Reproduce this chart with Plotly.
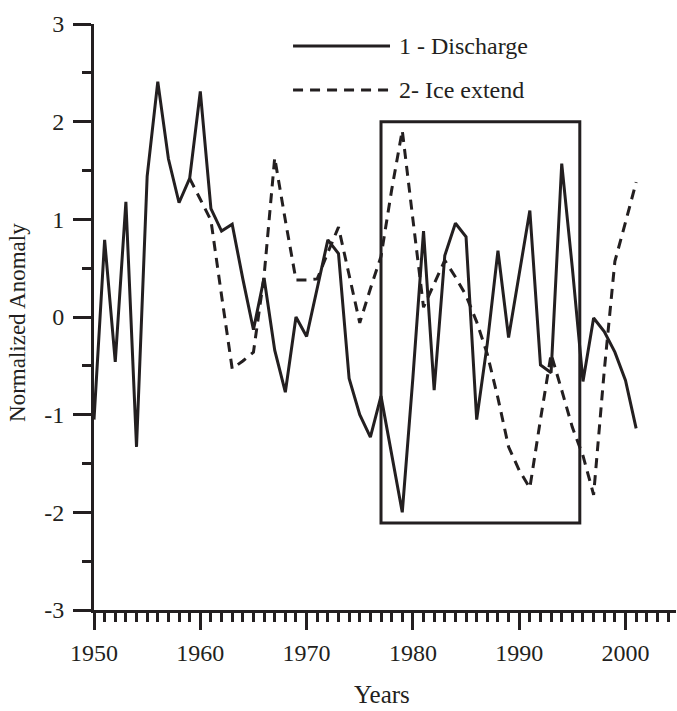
import plotly.graph_objects as go

# Discharge anomaly, 1950-2001
discharge_years = list(range(1950, 2002))
discharge = [
    -1.05, 0.79, -0.46, 1.18, -1.33, 1.44, 2.41, 1.62, 1.17, 1.42,
    2.31, 1.11, 0.88, 0.95, 0.39, -0.13, 0.40, -0.34, -0.77, 0.00,
    -0.20, 0.30, 0.79, 0.65, -0.63, -1.00, -1.23, -0.81, -1.40, -2.00,
    -0.62, 0.88, -0.75, 0.63, 0.96, 0.82, -1.05, -0.27, 0.68, -0.21,
    0.44, 1.09, -0.49, -0.57, 1.57, 0.50, -0.66, -0.01, -0.15, -0.36,
    -0.65, -1.14,
]

# Ice extent anomaly, 1959-2001
ice_years = list(range(1959, 2002))
ice = [
    1.42, 1.21, 0.99, 0.22, -0.53, -0.45, -0.36, 0.42, 1.63, 0.99,
    0.38, 0.38, 0.39, 0.66, 0.92, 0.43, -0.06, 0.29, 0.62, 1.30,
    1.91, 1.00, 0.10, 0.34, 0.58, 0.41, 0.22, -0.05, -0.38, -0.83,
    -1.33, -1.57, -1.75, -1.05, -0.38, -0.75, -1.13, -1.42, -1.82, -0.55,
    0.57, 0.97, 1.38,
]

# Highlighted period (box)
box_years = [1977, 1995.7]
box_range = [-2.11, 2.0]

series_names = ["1 - Discharge", "2- Ice extend"]
x_tick_labels = ["1950", "1960", "1970", "1980", "1990", "2000"]
y_tick_labels = ["-3", "-2", "-1", "0", "1", "2", "3"]

INK = "#231f20"
FONT = "Liberation Serif"

fig = go.Figure()
fig.add_trace(go.Scatter(
    x=discharge_years, y=discharge, mode="lines",
    line=dict(color=INK, width=3), name=series_names[0], showlegend=False,
))
fig.add_trace(go.Scatter(
    x=ice_years, y=ice, mode="lines",
    line=dict(color=INK, width=3, dash="10px,7px"), name=series_names[1],
    showlegend=False,
))

fig.add_shape(type="rect", xref="x", yref="y",
              x0=box_years[0], x1=box_years[1], y0=box_range[0], y1=box_range[1],
              line=dict(color=INK, width=3), fillcolor="rgba(0,0,0,0)")

# Legend drawn by hand so the sample lines are long
legend_rows = [(0.9625, "solid"), (0.8874, "10px,7px")]
for (yy, dash), name in zip(legend_rows, series_names):
    fig.add_shape(type="line", xref="paper", yref="paper",
                  x0=0.342, x1=0.5086, y0=yy, y1=yy,
                  line=dict(color=INK, width=3, dash=dash))
    fig.add_annotation(xref="paper", yref="paper", x=0.5206, y=yy,
                       text=name, showarrow=False, xanchor="left", yanchor="middle",
                       font=dict(family=FONT, size=24, color=INK))

# Axis titles
fig.add_annotation(xref="paper", yref="paper", x=-0.1306, y=0.4915,
                   text="Normalized Anomaly", textangle=-90, showarrow=False,
                   xanchor="center", yanchor="middle",
                   font=dict(family=FONT, size=23, color=INK))
fig.add_annotation(xref="paper", yref="paper", x=0.4948, y=-0.145,
                   text="Years", showarrow=False, xanchor="center", yanchor="middle",
                   font=dict(family=FONT, size=25, color=INK))

fig.update_xaxes(
    range=[1950, 2004.75], showgrid=False, zeroline=False,
    showline=True, linecolor=INK, linewidth=3,
    tickmode="array", tickvals=[int(t) for t in x_tick_labels], ticktext=x_tick_labels,
    ticks="outside", ticklen=17, tickwidth=3, tickcolor=INK,
    ticklabelstandoff=2,
    minor=dict(tickmode="linear", tick0=1950, dtick=1, ticks="outside",
               ticklen=9, tickwidth=2.5, tickcolor=INK),
    tickfont=dict(family=FONT, size=24, color=INK),
)
fig.update_yaxes(
    range=[-3, 3], showgrid=False, zeroline=False,
    showline=True, linecolor=INK, linewidth=3,
    tickmode="array", tickvals=[float(t) for t in y_tick_labels], ticktext=y_tick_labels,
    ticks="outside", ticklen=18, tickwidth=3, tickcolor=INK,
    ticklabelstandoff=4,
    minor=dict(tickmode="linear", tick0=-3, dtick=0.5, ticks="outside", ticklen=9,
               tickwidth=3, tickcolor=INK),
    tickfont=dict(family=FONT, size=24, color=INK),
)

fig.update_layout(
    width=677, height=711,
    margin=dict(l=94, r=1, t=24, b=101),
    plot_bgcolor="white", paper_bgcolor="white",
    showlegend=False,
)

fig.write_html("out.html")
